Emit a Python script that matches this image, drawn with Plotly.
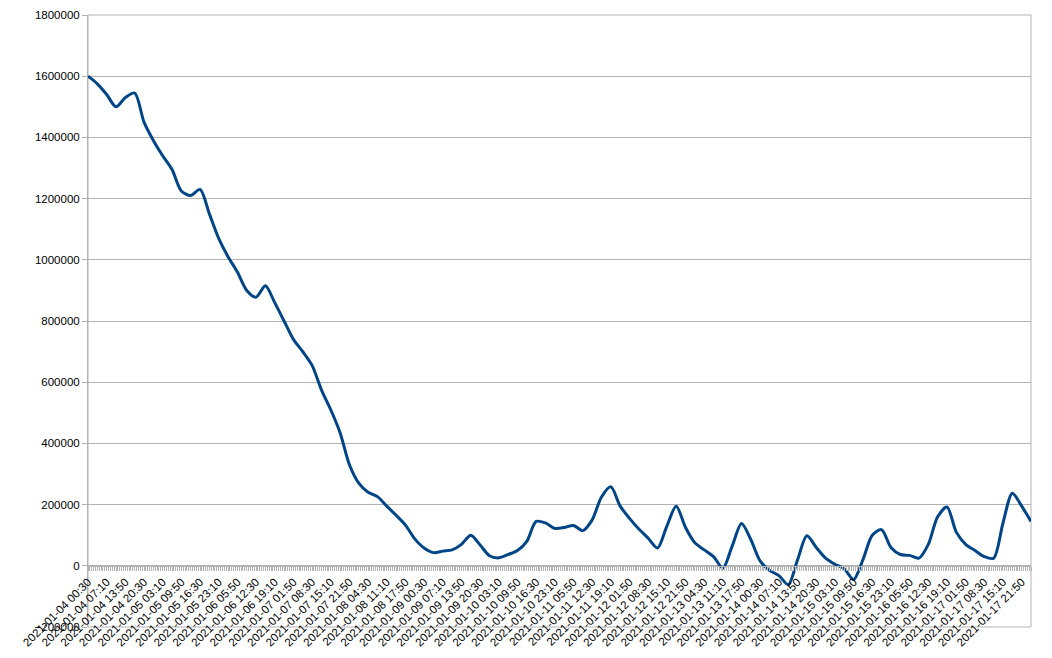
import plotly.graph_objects as go
from datetime import datetime, timedelta

# Data: one sample every 3h20m starting 2021-01-04 00:30
start = "2021-01-04 00:30"
step_minutes = 200
values = [
    1600000, 1575000, 1540000, 1500000, 1530000, 1545000, 1450000, 1390000,
    1340000, 1295000, 1225000, 1210000, 1230000, 1150000, 1070000, 1010000,
    960000, 900000, 878000, 915000, 860000, 800000, 740000, 700000,
    655000, 575000, 510000, 435000, 330000, 270000, 240000, 226000,
    195000, 165000, 133000, 88000, 58000, 43000, 48000, 52000,
    70000, 100000, 68000, 33000, 26000, 37000, 50000, 80000,
    145000, 140000, 122000, 125000, 132000, 115000, 150000, 225000,
    258000, 195000, 155000, 120000, 90000, 58000, 130000, 195000,
    125000, 75000, 52000, 30000, -8000, 65000, 138000, 85000,
    15000, -15000, -32000, -62000, 20000, 98000, 60000, 25000,
    5000, -10000, -45000, 20000, 100000, 118000, 60000, 37000,
    34000, 25000, 70000, 160000, 192000, 110000, 70000, 50000,
    30000, 25000, 140000, 237000, 195000, 145000,
]

# Tick labels (every 6h40m)
tick_labels = [
    "2021-01-04 00:30", "2021-01-04 07:10", "2021-01-04 13:50", "2021-01-04 20:30",
    "2021-01-05 03:10", "2021-01-05 09:50", "2021-01-05 16:30", "2021-01-05 23:10",
    "2021-01-06 05:50", "2021-01-06 12:30", "2021-01-06 19:10", "2021-01-07 01:50",
    "2021-01-07 08:30", "2021-01-07 15:10", "2021-01-07 21:50", "2021-01-08 04:30",
    "2021-01-08 11:10", "2021-01-08 17:50", "2021-01-09 00:30", "2021-01-09 07:10",
    "2021-01-09 13:50", "2021-01-09 20:30", "2021-01-10 03:10", "2021-01-10 09:50",
    "2021-01-10 16:30", "2021-01-10 23:10", "2021-01-11 05:50", "2021-01-11 12:30",
    "2021-01-11 19:10", "2021-01-12 01:50", "2021-01-12 08:30", "2021-01-12 15:10",
    "2021-01-12 21:50", "2021-01-13 04:30", "2021-01-13 11:10", "2021-01-13 17:50",
    "2021-01-14 00:30", "2021-01-14 07:10", "2021-01-14 13:50", "2021-01-14 20:30",
    "2021-01-15 03:10", "2021-01-15 09:50", "2021-01-15 16:30", "2021-01-15 23:10",
    "2021-01-16 05:50", "2021-01-16 12:30", "2021-01-16 19:10", "2021-01-17 01:50",
    "2021-01-17 08:30", "2021-01-17 15:10", "2021-01-17 21:50",
]

t0 = datetime.strptime(start, "%Y-%m-%d %H:%M")
times = [t0 + timedelta(minutes=step_minutes * i) for i in range(len(values))]
tick_vals = [datetime.strptime(s, "%Y-%m-%d %H:%M") for s in tick_labels]

GRID = "#b3b3b3"
FONT = "Liberation Sans, Arial, sans-serif"

fig = go.Figure()
fig.add_trace(go.Scatter(
    x=times, y=values, mode="lines",
    line=dict(color="#004586", width=3, shape="spline", smoothing=0.8),
    showlegend=False, hoverinfo="skip", cliponaxis=False,
))

fig.update_layout(
    width=1044, height=650,
    margin=dict(l=80, r=21, t=7, b=31, autoexpand=False),
    paper_bgcolor="white", plot_bgcolor="white",
    font=dict(family=FONT, size=11.5, color="#000000"),
    xaxis=dict(
        type="date", automargin=False,
        range=[times[0], times[-1]],
        tickmode="array", tickvals=tick_vals, ticktext=tick_labels,
        tickangle=-45, tickfont=dict(size=11.5, family=FONT, color="#000000"),
        showgrid=False, zeroline=False,
        showline=True, linecolor=GRID, linewidth=1,
        ticks="outside", ticklen=4, tickcolor=GRID,
        minor=dict(ticks="outside", ticklen=4, tickcolor=GRID,
                   dtick=40 * 60 * 1000, tick0=times[0], showgrid=False),
        anchor="free", position=0.1,
    ),
    yaxis=dict(
        automargin=False,
        range=[-200000, 1800000], dtick=200000, tick0=0,
        showgrid=True, gridcolor=GRID, gridwidth=1,
        zeroline=False,
        showline=True, linecolor=GRID, linewidth=1,
        ticks="outside", ticklen=5, tickcolor=GRID,
        tickformat="d", separatethousands=False,
        tickfont=dict(size=11.5, family=FONT, color="#000000"),
    ),
    shapes=[dict(type="rect", xref="paper", yref="paper", x0=0, x1=1, y0=0, y1=1,
                 line=dict(color=GRID, width=1), fillcolor="rgba(0,0,0,0)", layer="below")],
)

fig.write_html("out.html")
